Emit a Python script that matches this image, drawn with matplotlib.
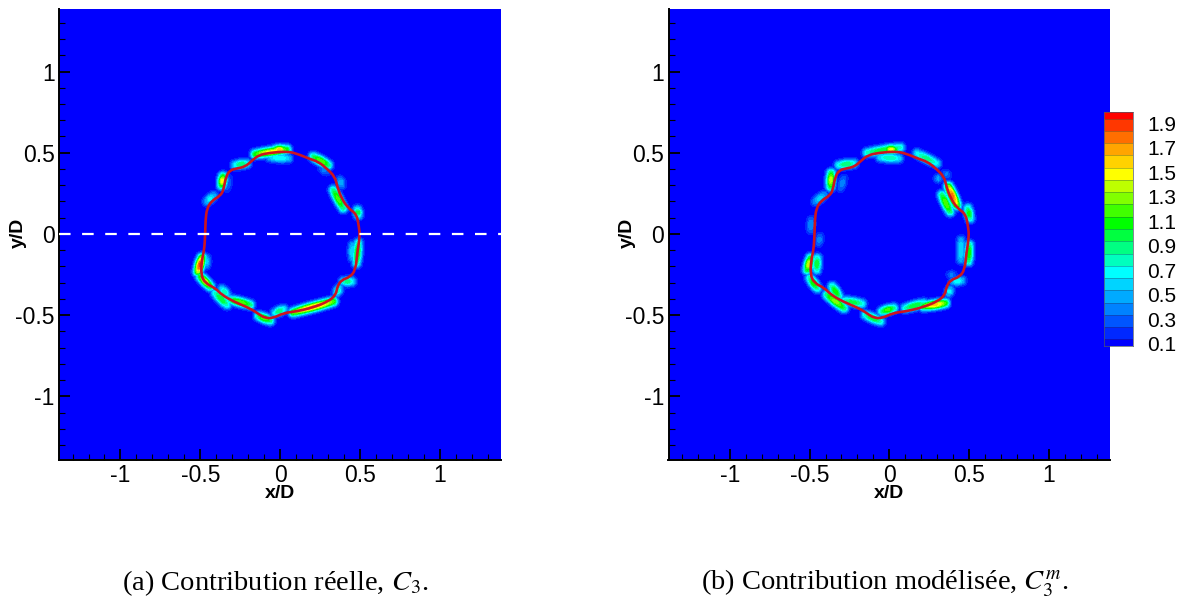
import matplotlib
matplotlib.use('Agg')
import matplotlib.pyplot as plt
import numpy as np
from matplotlib.path import Path
from matplotlib.patches import PathPatch

plt.rcParams['font.family'] = ['Liberation Sans', 'DejaVu Sans']
plt.rcParams['mathtext.fontset'] = 'stix'

# Flame front (same line in both panels)
front_x = [-0.469, -0.467, -0.458, -0.427, -0.375, -0.354, -0.340, -0.313, -0.271, -0.219, -0.177, -0.135,
           -0.063, 0.042, 0.104, 0.177, 0.240, 0.292, 0.344, 0.358, 0.385, 0.427, 0.479, 0.494, 0.500,
           0.483, 0.473, 0.438, 0.385, 0.358, 0.350, 0.302, 0.208, 0.104, 0.021, -0.042, -0.094, -0.135,
           -0.183, -0.292, -0.365, -0.406, -0.469, -0.496, -0.490, -0.475]
front_y = [0.000, 0.086, 0.158, 0.205, 0.235, 0.270, 0.352, 0.393, 0.403, 0.414, 0.450, 0.485,
           0.500, 0.508, 0.495, 0.465, 0.444, 0.403, 0.352, 0.291, 0.219, 0.158, 0.123, 0.045, -0.016,
           -0.119, -0.221, -0.266, -0.283, -0.324, -0.375, -0.416, -0.452, -0.477, -0.487, -0.518, -0.518, -0.493,
           -0.461, -0.416, -0.375, -0.334, -0.303, -0.252, -0.160, -0.098]

# Patches of C3 around the front: segment ends and peak value
a_x0 = [-0.156, -0.031, -0.063, -0.365, -0.281, -0.458, 0.208, 0.375, 0.333, 0.485, 0.490, 0.454, -0.515,
        -0.500, -0.365, -0.406, -0.313, -0.135, -0.031, 0.083, 0.354, 0.396, -0.463, -0.323, 0.260]
a_y0 = [0.491, 0.516, 0.471, 0.301, 0.424, 0.199, 0.475, 0.332, 0.270, 0.147, -0.057, -0.068, -0.231,
        -0.262, -0.340, -0.364, -0.405, -0.504, -0.487, -0.483, -0.364, -0.293, -0.149, 0.342, 0.403]
a_x1 = [0.042, 0.021, 0.052, -0.358, -0.208, -0.417, 0.302, 0.385, 0.396, 0.490, 0.479, 0.454, -0.490,
        -0.438, -0.333, -0.333, -0.188, -0.063, 0.021, 0.333, 0.371, 0.448, -0.463, -0.333, 0.292]
a_y1 = [0.520, 0.520, 0.465, 0.352, 0.434, 0.235, 0.424, 0.301, 0.158, 0.117, -0.180, -0.149, -0.149,
        -0.324, -0.375, -0.436, -0.436, -0.534, -0.463, -0.416, -0.334, -0.293, -0.190, 0.281, 0.383]
a_peak = [1.45, 1.6, 0.7, 1.5, 0.9, 0.65, 1.2, 0.5, 1.15, 1.0, 1.1, 0.6, 1.85,
          1.4, 0.8, 1.0, 1.2, 1.2, 0.9, 1.6, 0.8, 0.9, 0.6, 0.3, 0.35]

b_x0 = [-0.140, -0.015, -0.056, -0.369, -0.317, -0.463, 0.173, -0.306, 0.304, 0.350, 0.371, 0.329, 0.492,
        -0.490, -0.435, 0.502, 0.450, -0.515, -0.452, -0.498, -0.358, -0.390, -0.285, -0.150, -0.046,
        0.215, 0.100, 0.371, 0.402, 0.381]
b_y0 = [0.500, 0.520, 0.471, 0.291, 0.424, 0.199, 0.495, 0.281, 0.342, 0.373, 0.291, 0.240, 0.158,
        0.086, -0.016, -0.068, -0.037, -0.221, -0.149, -0.272, -0.324, -0.375, -0.410, -0.498, -0.477,
        -0.446, -0.458, -0.364, -0.293, -0.252]
b_x1 = [0.069, 0.037, 0.058, -0.365, -0.223, -0.410, 0.298, -0.285, 0.310, 0.365, 0.423, 0.381, 0.506,
        -0.494, -0.442, 0.496, 0.448, -0.494, -0.456, -0.452, -0.317, -0.285, -0.171, -0.056, 0.027,
        0.350, 0.215, 0.381, 0.454, 0.400]
b_y1 = [0.532, 0.520, 0.465, 0.373, 0.434, 0.240, 0.434, 0.342, 0.342, 0.363, 0.178, 0.137, 0.096,
        0.025, -0.057, -0.170, -0.160, -0.149, -0.221, -0.334, -0.385, -0.457, -0.430, -0.539, -0.457,
        -0.426, -0.426, -0.344, -0.287, -0.252]
b_peak = [1.0, 1.45, 0.8, 1.35, 0.9, 0.55, 0.85, 0.35, 0.5, 0.35, 1.75, 1.2, 1.05,
          0.4, 0.35, 1.1, 0.6, 1.4, 1.0, 1.1, 1.1, 1.25, 0.95, 1.0, 1.15,
          1.55, 1.0, 0.7, 0.7, 0.35]

levels = [0.1, 0.2, 0.3, 0.4, 0.5, 0.6, 0.7, 0.8, 0.9, 1.0, 1.1, 1.2, 1.3, 1.4, 1.5, 1.6, 1.7, 1.8, 1.9]
level_labels = ['0.1', '0.3', '0.5', '0.7', '0.9', '1.1', '1.3', '1.5', '1.7', '1.9']
band_colors = ['#0000ff', '#0028ff', '#0055ff', '#0082ff', '#00aaff', '#00d4ff', '#00ffff', '#00ffbe',
               '#00ff82', '#00ff40', '#00ff00', '#40ff00', '#82ff00', '#beff00', '#ffff00', '#ffd200',
               '#ffa500', '#ff6e00', '#ff3700', '#ff0000']

W, H = 1179, 601
fig = plt.figure(figsize=(W / 100, H / 100), dpi=100)


def px_axes(left, top, right, bottom):
    return fig.add_axes([left / W, 1 - bottom / H, (right - left) / W, (bottom - top) / H])


def patch_field(xx, yy, x0, y0, x1, y1, peak, sigma=0.0195):
    # each patch is a gaussian ridge along its segment, weaker towards its ends
    field = np.zeros_like(xx)
    for a, b, c, d, p in zip(x0, y0, x1, y1, peak):
        dx, dy = c - a, d - b
        t = np.clip(((xx - a) * dx + (yy - b) * dy) / max(dx * dx + dy * dy, 1e-9), 0, 1)
        dist2 = (xx - a - t * dx) ** 2 + (yy - b - t * dy) ** 2
        taper = 0.72 + 0.28 * np.sin(np.pi * t)
        field = np.maximum(field, p * taper * np.exp(-dist2 / (2 * sigma ** 2)))
    return field


def front_path():
    # round the corners of the read points with quadratic curves
    n = len(front_x)
    mids = [((front_x[i] + front_x[(i + 1) % n]) / 2, (front_y[i] + front_y[(i + 1) % n]) / 2) for i in range(n)]
    verts = [mids[-1]]
    codes = [Path.MOVETO]
    for i in range(n):
        verts += [(front_x[i], front_y[i]), mids[i]]
        codes += [Path.CURVE3, Path.CURVE3]
    return Path(verts, codes)


def draw_panel(ax, x0, y0, x1, y1, peak):
    gx = np.linspace(-0.8, 0.8, 640)
    gy = np.linspace(-0.8, 0.8, 640)
    xx, yy = np.meshgrid(gx, gy)
    ax.set_facecolor('#0000ff')
    ax.contourf(xx, yy, patch_field(xx, yy, x0, y0, x1, y1, peak),
                levels=[-1] + levels + [5], colors=band_colors)
    ax.add_patch(PathPatch(front_path(), fill=False, edgecolor='#cc1420', linewidth=1.9, zorder=3))

    ax.set_xlim(-1.385, 1.384)
    ax.set_ylim(-1.392, 1.385)
    ax.set_xticks([-1, -0.5, 0, 0.5, 1])
    ax.set_xticklabels(['-1', '-0.5', '0', '0.5', '1'])
    ax.set_yticks([-1, -0.5, 0, 0.5, 1])
    ax.set_yticklabels(['-1', '-0.5', '0', '0.5', '1'])
    ax.set_xticks(np.arange(-1.3, 1.35, 0.1), minor=True)
    ax.set_yticks(np.arange(-1.3, 1.35, 0.1), minor=True)
    ax.tick_params(which='major', direction='in', length=8, width=1.3, labelsize=16.5, pad=3)
    ax.tick_params(which='minor', direction='in', length=4, width=0.8)
    ax.spines['top'].set_visible(False)
    ax.spines['right'].set_visible(False)
    ax.spines['left'].set_linewidth(1.4)
    ax.spines['bottom'].set_linewidth(1.4)
    ax.set_axisbelow(False)


ax1 = px_axes(59, 9, 501, 460)
ax2 = px_axes(668.5, 9, 1110, 460)
draw_panel(ax1, a_x0, a_y0, a_x1, a_y1, a_peak)
draw_panel(ax2, b_x0, b_y0, b_x1, b_y1, b_peak)
ax1.axhline(0, color='white', linewidth=1.6, dashes=(5.2, 5.2), zorder=4)

for left, center in [(0, 280), (609.5, 889)]:
    fig.text(center / W, 1 - 494 / H, 'x/D', fontsize=14, fontweight='bold', ha='center', va='center')
    fig.text((left + 18) / W, 1 - 233 / H, 'y/D', fontsize=14, fontweight='bold', rotation=90,
             ha='center', va='center')

# Colour bar
cax = px_axes(1103.5, 112, 1133, 346)
edges = [0.045] + levels + [1.955]
cax.pcolormesh([0, 1], edges, np.arange(len(band_colors)).reshape(-1, 1),
               cmap=matplotlib.colors.ListedColormap(band_colors), shading='flat')
cax.hlines(levels, 0, 1, color='#203040', linewidth=0.5, alpha=0.45)
cax.set_xlim(0, 1)
cax.set_ylim(0.045, 1.955)
cax.set_xticks([])
cax.yaxis.tick_right()
cax.set_yticks([float(s) - 0.035 for s in level_labels])
cax.set_yticklabels(level_labels)
cax.tick_params(axis='y', length=0, labelsize=15, pad=10)
for s in cax.spines.values():
    s.set_linewidth(0.5)
    s.set_color('#505868')

fig.text(275 / W, 1 - 590 / H, '(a) Contribution réelle, $C_3$.', fontsize=20.5, family='Liberation Serif',
         ha='center', va='baseline')
fig.text(885 / W, 1 - 590 / H, '(b) Contribution modélisée, $C_3^m$.', fontsize=20.5, family='Liberation Serif',
         ha='center', va='baseline')

fig.savefig('out.png', dpi=100)
